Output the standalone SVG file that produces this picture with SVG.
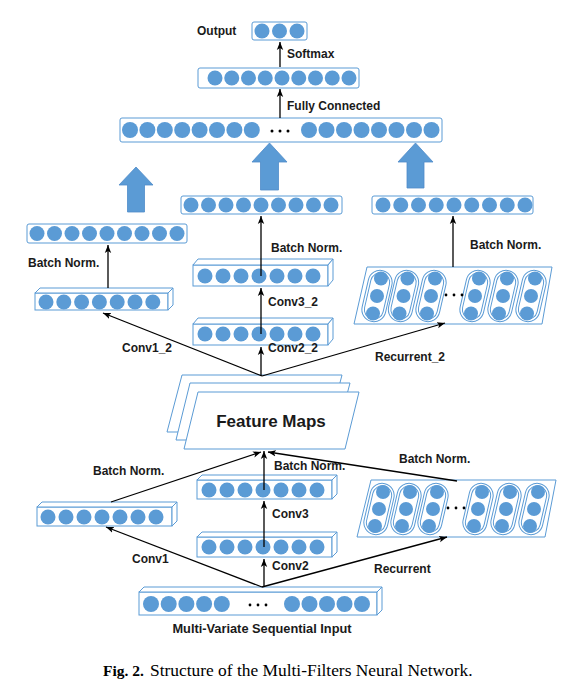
<svg xmlns="http://www.w3.org/2000/svg" width="578" height="696" viewBox="0 0 578 696">
<defs>
<style>
.bx{fill:#fff;stroke:#5B9BD5;stroke-width:1}
.c{fill:#5B9BD5}
.lbl{font-family:"Liberation Sans",Arial,sans-serif;font-weight:bold;font-size:12px;fill:#1a1a1a}
.cn{stroke:#000;stroke-width:1.3;fill:none;marker-end:url(#ah)}
.blk{fill:#5B9BD5;stroke:#4F8CC9;stroke-width:0.8}
.dot{fill:#000}
</style>
<marker id="ah" viewBox="0 0 10 10" refX="10" refY="5" markerWidth="8" markerHeight="8" markerUnits="userSpaceOnUse" orient="auto">
<path d="M0,1 L10,5 L0,9 L2.5,5 z" fill="#000"/>
</marker>
<g id="pill"><rect class="bx" x="-12" y="-26" width="24" height="52" rx="12"/><rect class="bx" x="-9.5" y="-23.5" width="19" height="47" rx="9.5"/></g>
</defs>
<rect width="578" height="696" fill="#fff"/>

<g id="output">
<rect class="bx" x="252" y="22" width="55" height="18" rx="2"/>
<circle class="c" cx="262" cy="31" r="7.5"/><circle class="c" cx="279.5" cy="31" r="7.5"/><circle class="c" cx="297" cy="31" r="7.5"/>
<text class="lbl" x="197" y="35">Output</text>
</g>

<g id="fc">
<rect class="bx" x="198" y="68" width="161" height="20" rx="2"/>
<circle class="c" cx="215" cy="78" r="7.5"/><circle class="c" cx="231.75" cy="78" r="7.5"/><circle class="c" cx="248.5" cy="78" r="7.5"/><circle class="c" cx="265.25" cy="78" r="7.5"/><circle class="c" cx="282" cy="78" r="7.5"/><circle class="c" cx="298.75" cy="78" r="7.5"/><circle class="c" cx="315.5" cy="78" r="7.5"/><circle class="c" cx="332.25" cy="78" r="7.5"/><circle class="c" cx="349" cy="78" r="7.5"/>
</g>

<g id="concat">
<rect class="bx" x="120" y="118" width="322" height="24" rx="2"/>
<circle class="c" cx="130" cy="130" r="8"/><circle class="c" cx="147.4" cy="130" r="8"/><circle class="c" cx="164.8" cy="130" r="8"/><circle class="c" cx="182.2" cy="130" r="8"/><circle class="c" cx="199.6" cy="130" r="8"/><circle class="c" cx="217" cy="130" r="8"/><circle class="c" cx="234.4" cy="130" r="8"/><circle class="c" cx="251.8" cy="130" r="8"/>
<circle class="dot" cx="272" cy="131" r="1.5"/><circle class="dot" cx="280" cy="131" r="1.5"/><circle class="dot" cx="288" cy="131" r="1.5"/>
<circle class="c" cx="309" cy="130" r="8"/><circle class="c" cx="326.5" cy="130" r="8"/><circle class="c" cx="344" cy="130" r="8"/><circle class="c" cx="361.5" cy="130" r="8"/><circle class="c" cx="379" cy="130" r="8"/><circle class="c" cx="396.5" cy="130" r="8"/><circle class="c" cx="414" cy="130" r="8"/><circle class="c" cx="431.5" cy="130" r="8"/>
</g>

<g id="block-arrows">
<polygon class="blk" points="136,167 153,185 144.5,185 144.5,212 127.5,212 127.5,185 119,185"/>
<polygon class="blk" points="269.5,143 287,162 278.5,162 278.5,190 260.5,190 260.5,162 252,162"/>
<polygon class="blk" points="415.5,143 433,162 424,162 424,188 407,188 407,162 398,162"/>
</g>

<g id="bn1_2">
<rect class="bx" x="27" y="224" width="160" height="19" rx="2"/>
<circle class="c" cx="37" cy="233.5" r="7.5"/><circle class="c" cx="54.5" cy="233.5" r="7.5"/><circle class="c" cx="72" cy="233.5" r="7.5"/><circle class="c" cx="89.5" cy="233.5" r="7.5"/><circle class="c" cx="107" cy="233.5" r="7.5"/><circle class="c" cx="124.5" cy="233.5" r="7.5"/><circle class="c" cx="142" cy="233.5" r="7.5"/><circle class="c" cx="159.5" cy="233.5" r="7.5"/><circle class="c" cx="177" cy="233.5" r="7.5"/>
</g>

<g id="bn3_2">
<rect class="bx" x="181" y="196" width="161" height="18" rx="2"/>
<circle class="c" cx="191" cy="205" r="7.5"/><circle class="c" cx="208.5" cy="205" r="7.5"/><circle class="c" cx="226" cy="205" r="7.5"/><circle class="c" cx="243.5" cy="205" r="7.5"/><circle class="c" cx="261" cy="205" r="7.5"/><circle class="c" cx="278.5" cy="205" r="7.5"/><circle class="c" cx="296" cy="205" r="7.5"/><circle class="c" cx="313.5" cy="205" r="7.5"/><circle class="c" cx="331" cy="205" r="7.5"/>
</g>

<g id="bnr_2">
<rect class="bx" x="372" y="196" width="161" height="18" rx="2"/>
<circle class="c" cx="383" cy="205" r="7.5"/><circle class="c" cx="400.75" cy="205" r="7.5"/><circle class="c" cx="418.5" cy="205" r="7.5"/><circle class="c" cx="436.25" cy="205" r="7.5"/><circle class="c" cx="454" cy="205" r="7.5"/><circle class="c" cx="471.75" cy="205" r="7.5"/><circle class="c" cx="489.5" cy="205" r="7.5"/><circle class="c" cx="507.25" cy="205" r="7.5"/><circle class="c" cx="525" cy="205" r="7.5"/>
</g>

<g id="conv1_2">
<rect class="bx" x="35" y="293" width="133" height="17"/>
<polygon class="bx" points="35,293 40,288 173,288 168,293"/>
<polygon class="bx" points="168,293 173,288 173,305 168,310"/>
<circle class="c" cx="46" cy="302" r="7.5"/><circle class="c" cx="63.8" cy="302" r="7.5"/><circle class="c" cx="81.6" cy="302" r="7.5"/><circle class="c" cx="99.4" cy="302" r="7.5"/><circle class="c" cx="117.2" cy="302" r="7.5"/><circle class="c" cx="135" cy="302" r="7.5"/><circle class="c" cx="152.8" cy="302" r="7.5"/>
</g>

<g id="conv3_2">
<rect class="bx" x="193" y="265" width="135" height="21"/>
<polygon class="bx" points="193,265 198,259 333,259 328,265"/>
<polygon class="bx" points="328,265 333,259 333,280 328,286"/>
<circle class="c" cx="205" cy="276" r="7.5"/><circle class="c" cx="223" cy="276" r="7.5"/><circle class="c" cx="241" cy="276" r="7.5"/><circle class="c" cx="259" cy="276" r="7.5"/><circle class="c" cx="277" cy="276" r="7.5"/><circle class="c" cx="295" cy="276" r="7.5"/><circle class="c" cx="313" cy="276" r="7.5"/>
</g>

<g id="conv2_2">
<rect class="bx" x="193" y="324" width="135" height="21"/>
<polygon class="bx" points="193,324 198,318 333,318 328,324"/>
<polygon class="bx" points="328,324 333,318 333,339 328,345"/>
<circle class="c" cx="205" cy="334" r="7.5"/><circle class="c" cx="223" cy="334" r="7.5"/><circle class="c" cx="241" cy="334" r="7.5"/><circle class="c" cx="259" cy="334" r="7.5"/><circle class="c" cx="277" cy="334" r="7.5"/><circle class="c" cx="295" cy="334" r="7.5"/><circle class="c" cx="313" cy="334" r="7.5"/>
</g>

<g id="recurrent_2">
<polygon class="bx" points="367,267 552,267 542,324 354,324"/>
<use href="#pill" transform="translate(377,296) rotate(13)"/>
<use href="#pill" transform="translate(403.5,296) rotate(13)"/>
<use href="#pill" transform="translate(431,296) rotate(13)"/>
<use href="#pill" transform="translate(475,296) rotate(13)"/>
<use href="#pill" transform="translate(503,296) rotate(13)"/>
<use href="#pill" transform="translate(531,296) rotate(13)"/>
<circle class="c" cx="381" cy="278.5" r="7"/><circle class="c" cx="377" cy="296" r="7"/><circle class="c" cx="373" cy="313.5" r="7"/>
<circle class="c" cx="407.5" cy="278.5" r="7"/><circle class="c" cx="403.5" cy="296" r="7"/><circle class="c" cx="399.5" cy="313.5" r="7"/>
<circle class="c" cx="435" cy="278.5" r="7"/><circle class="c" cx="431" cy="296" r="7"/><circle class="c" cx="427" cy="313.5" r="7"/>
<circle class="c" cx="479" cy="278.5" r="7"/><circle class="c" cx="475" cy="296" r="7"/><circle class="c" cx="471" cy="313.5" r="7"/>
<circle class="c" cx="507" cy="278.5" r="7"/><circle class="c" cx="503" cy="296" r="7"/><circle class="c" cx="499" cy="313.5" r="7"/>
<circle class="c" cx="535" cy="278.5" r="7"/><circle class="c" cx="531" cy="296" r="7"/><circle class="c" cx="527" cy="313.5" r="7"/>
<circle class="dot" cx="446" cy="295" r="1.4"/><circle class="dot" cx="454" cy="295" r="1.4"/><circle class="dot" cx="462" cy="295" r="1.4"/>
</g>

<g id="feature-maps">
<polygon class="bx" points="182,375 342,375 327,432 167,432"/>
<polygon class="bx" points="190,383 350,383 335,440 176,440"/>
<polygon class="bx" points="198,392 359,392 345,449 184,449"/>
<text x="271" y="427" text-anchor="middle" style="font-family:'Liberation Sans',Arial,sans-serif;font-weight:bold;font-size:17px;fill:#1a1a1a">Feature Maps</text>
</g>

<g id="conv1">
<rect class="bx" x="37" y="507" width="135" height="19"/>
<polygon class="bx" points="37,507 42,502 177,502 172,507"/>
<polygon class="bx" points="172,507 177,502 177,521 172,526"/>
<circle class="c" cx="48" cy="517" r="7.5"/><circle class="c" cx="66" cy="517" r="7.5"/><circle class="c" cx="84" cy="517" r="7.5"/><circle class="c" cx="102" cy="517" r="7.5"/><circle class="c" cx="120" cy="517" r="7.5"/><circle class="c" cx="138" cy="517" r="7.5"/><circle class="c" cx="156" cy="517" r="7.5"/>
</g>

<g id="conv3">
<rect class="bx" x="197" y="480" width="135" height="19"/>
<polygon class="bx" points="197,480 202,475 337,475 332,480"/>
<polygon class="bx" points="332,480 337,475 337,494 332,499"/>
<circle class="c" cx="209" cy="490" r="7.5"/><circle class="c" cx="227" cy="490" r="7.5"/><circle class="c" cx="245" cy="490" r="7.5"/><circle class="c" cx="263" cy="490" r="7.5"/><circle class="c" cx="281" cy="490" r="7.5"/><circle class="c" cx="299" cy="490" r="7.5"/><circle class="c" cx="317" cy="490" r="7.5"/>
</g>

<g id="conv2">
<rect class="bx" x="197" y="537" width="135" height="20"/>
<polygon class="bx" points="197,537 202,532 337,532 332,537"/>
<polygon class="bx" points="332,537 337,532 337,552 332,557"/>
<circle class="c" cx="209" cy="547" r="7.5"/><circle class="c" cx="227" cy="547" r="7.5"/><circle class="c" cx="245" cy="547" r="7.5"/><circle class="c" cx="263" cy="547" r="7.5"/><circle class="c" cx="281" cy="547" r="7.5"/><circle class="c" cx="299" cy="547" r="7.5"/><circle class="c" cx="317" cy="547" r="7.5"/>
</g>

<g id="recurrent">
<polygon class="bx" points="371,480 556,480 545,537 357,537"/>
<use href="#pill" transform="translate(379,509) rotate(13)"/>
<use href="#pill" transform="translate(406,509) rotate(13)"/>
<use href="#pill" transform="translate(433,509) rotate(13)"/>
<use href="#pill" transform="translate(478,509) rotate(13)"/>
<use href="#pill" transform="translate(506,509) rotate(13)"/>
<use href="#pill" transform="translate(534,509) rotate(13)"/>
<circle class="c" cx="383" cy="492" r="7"/><circle class="c" cx="379" cy="509" r="7"/><circle class="c" cx="375" cy="526" r="7"/>
<circle class="c" cx="410" cy="492" r="7"/><circle class="c" cx="406" cy="509" r="7"/><circle class="c" cx="402" cy="526" r="7"/>
<circle class="c" cx="437" cy="492" r="7"/><circle class="c" cx="433" cy="509" r="7"/><circle class="c" cx="429" cy="526" r="7"/>
<circle class="c" cx="482" cy="492" r="7"/><circle class="c" cx="478" cy="509" r="7"/><circle class="c" cx="474" cy="526" r="7"/>
<circle class="c" cx="510" cy="492" r="7"/><circle class="c" cx="506" cy="509" r="7"/><circle class="c" cx="502" cy="526" r="7"/>
<circle class="c" cx="538" cy="492" r="7"/><circle class="c" cx="534" cy="509" r="7"/><circle class="c" cx="530" cy="526" r="7"/>
<circle class="dot" cx="448" cy="508" r="1.4"/><circle class="dot" cx="456" cy="508" r="1.4"/><circle class="dot" cx="464" cy="508" r="1.4"/>
</g>

<g id="input">
<rect class="bx" x="139" y="592" width="238" height="23"/>
<polygon class="bx" points="139,592 144,587 382,587 377,592"/>
<polygon class="bx" points="377,592 382,587 382,610 377,615"/>
<circle class="c" cx="151" cy="604" r="8"/><circle class="c" cx="168.7" cy="604" r="8"/><circle class="c" cx="186.4" cy="604" r="8"/><circle class="c" cx="204.1" cy="604" r="8"/><circle class="c" cx="221.8" cy="604" r="8"/>
<circle class="dot" cx="250" cy="605" r="1.4"/><circle class="dot" cx="258" cy="605" r="1.4"/><circle class="dot" cx="266" cy="605" r="1.4"/>
<circle class="c" cx="292" cy="604" r="8"/><circle class="c" cx="309.5" cy="604" r="8"/><circle class="c" cx="327" cy="604" r="8"/><circle class="c" cx="344.5" cy="604" r="8"/><circle class="c" cx="362" cy="604" r="8"/>
<text class="lbl" x="262" y="633" text-anchor="middle" style="font-size:12.8px">Multi-Variate Sequential Input</text>
</g>

<g id="connectors">
<line class="cn" x1="280" y1="67" x2="280" y2="42"/>
<line class="cn" x1="280" y1="118" x2="280" y2="89"/>
<line class="cn" x1="108" y1="288" x2="108" y2="245"/>
<line class="cn" x1="261" y1="276" x2="261" y2="216"/>
<line class="cn" x1="261" y1="334" x2="261" y2="288"/>
<line class="cn" x1="261" y1="376" x2="261" y2="347"/>
<line class="cn" x1="262" y1="376" x2="103" y2="313"/>
<line class="cn" x1="262" y1="376" x2="445" y2="323"/>
<line class="cn" x1="453" y1="267" x2="453" y2="216"/>
<line class="cn" x1="262" y1="587" x2="106" y2="527"/>
<line class="cn" x1="264" y1="587" x2="264" y2="559"/>
<line class="cn" x1="262" y1="587" x2="447" y2="537"/>
<line class="cn" x1="264" y1="547" x2="264" y2="501"/>
<line class="cn" x1="264" y1="490" x2="264" y2="451"/>
<line class="cn" x1="111" y1="502" x2="261" y2="452"/>
<line class="cn" x1="457" y1="481" x2="268" y2="452"/>
</g>

<g id="labels">
<text class="lbl" x="287" y="58">Softmax</text>
<text class="lbl" x="287" y="110">Fully Connected</text>
<text class="lbl" x="28" y="267">Batch Norm.</text>
<text class="lbl" x="271" y="252">Batch Norm.</text>
<text class="lbl" x="470" y="249">Batch Norm.</text>
<text class="lbl" x="268" y="306">Conv3_2</text>
<text class="lbl" x="268" y="352">Conv2_2</text>
<text class="lbl" x="122" y="352">Conv1_2</text>
<text class="lbl" x="375" y="361">Recurrent_2</text>
<text class="lbl" x="93" y="475">Batch Norm.</text>
<text class="lbl" x="274" y="470">Batch Norm.</text>
<text class="lbl" x="399" y="463">Batch Norm.</text>
<text class="lbl" x="272" y="518">Conv3</text>
<text class="lbl" x="272" y="570">Conv2</text>
<text class="lbl" x="132" y="563">Conv1</text>
<text class="lbl" x="374" y="573">Recurrent</text>
</g>

<text id="caption" y="676" style="font-family:'Liberation Serif','Times New Roman',serif;fill:#000"><tspan x="103" font-weight="bold" font-size="15.5">Fig. 2.</tspan><tspan x="150" font-size="17.4">Structure of the Multi-Filters Neural Network.</tspan></text>
</svg>
